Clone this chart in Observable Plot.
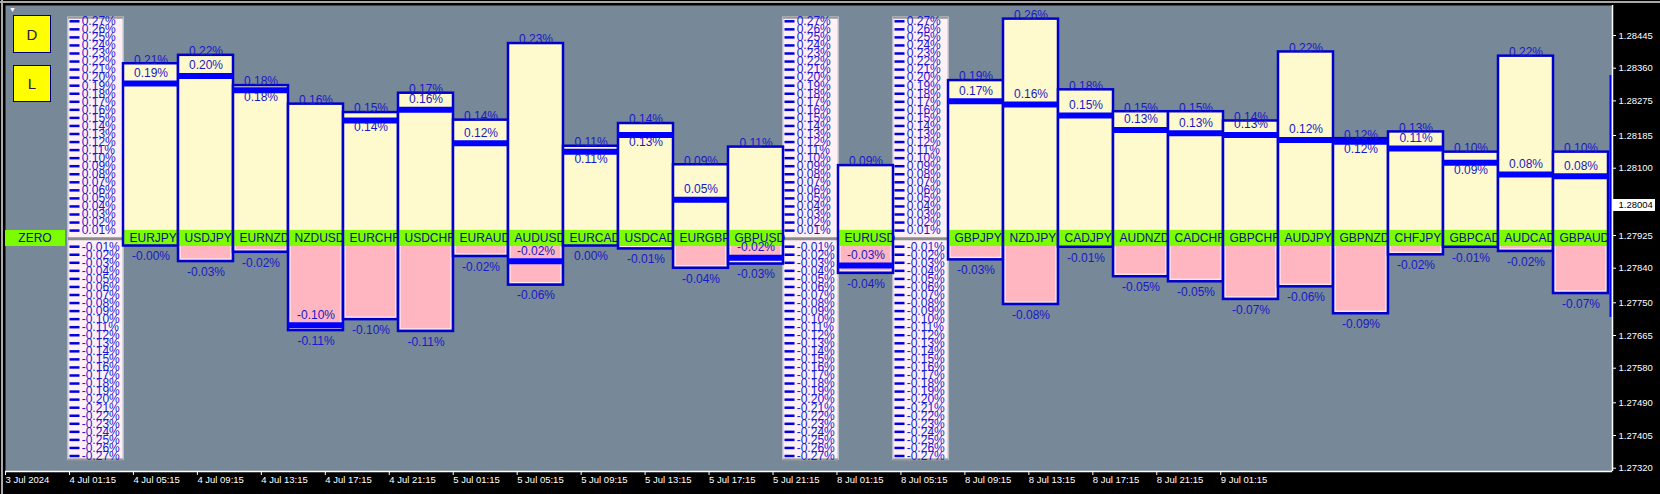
<!DOCTYPE html>
<html>
<head>
<meta charset="utf-8">
<script src="https://cdn.jsdelivr.net/npm/d3@7"></script>
<script src="https://cdn.jsdelivr.net/npm/@observablehq/plot@0.6"></script>
<style>
  html, body { margin: 0; padding: 0; background: #000; overflow: hidden; }
  #chart { position: relative; width: 1660px; height: 494px; background: #000; font-family: "Liberation Sans", Arial, sans-serif; }
  #chart svg { position: absolute; left: 0; top: 0; }
  .btn { position: absolute; left: 13px; width: 38px; box-sizing: border-box; background: #ffff00; border: 1px solid #00007a;
         display: flex; align-items: center; justify-content: center; font-size: 15px; color: #202040; }
  .zero { position: absolute; left: 5px; width: 60px; box-sizing: border-box; background: #7cfc00;
          display: flex; align-items: center; justify-content: center; font-size: 12px; color: #0c0c8a; }
  .edge { position: absolute; background: #a9a9a9; }
  .tri { position: absolute; left: 9px; top: 6px; color: #fff; font-size: 7px; }
</style>
</head>
<body>
<div id="chart"></div>
<script>
// ---------- data ----------
const columns = ["|1", "EURJPY", "USDJPY", "EURNZD", "NZDUSD", "EURCHF", "USDCHF", "EURAUD", "AUDUSD",
  "EURCAD", "USDCAD", "EURGBP", "GBPUSD", "|2", "EURUSD", "|3", "GBPJPY", "NZDJPY", "CADJPY", "AUDNZD",
  "CADCHF", "GBPCHF", "AUDJPY", "GBPNZD", "CHFJPY", "GBPCAD", "AUDCAD", "GBPAUD"];
const pairs = columns.filter(c => !c.startsWith("|"));
const rulers = columns.filter(c => c.startsWith("|"));

// high / current / low change in percent, per pair (same order as pairs)
const hi  = [0.207, 0.217, 0.181, 0.159, 0.149, 0.172, 0.140, 0.231, 0.109, 0.136, 0.087, 0.108,
             0.086, 0.187, 0.260, 0.176, 0.150, 0.150, 0.139, 0.221, 0.118, 0.126, 0.102, 0.216, 0.102];
const cur = [0.187, 0.196, 0.179, -0.100, 0.143, 0.156, 0.116, -0.024, 0.106, 0.126, 0.049, -0.020,
             -0.029, 0.166, 0.162, 0.149, 0.132, 0.128, 0.126, 0.120, 0.118, 0.110, 0.093, 0.079, 0.077];
const lo  = [-0.004, -0.028, -0.017, -0.110, -0.097, -0.111, -0.022, -0.056, 0.002, -0.013, -0.036, -0.031,
             -0.042, -0.026, -0.079, -0.011, -0.046, -0.052, -0.073, -0.058, -0.090, -0.020, -0.011, -0.016, -0.066];

// ruler tick values (percent)
const rulerTicks = [...d3.range(27, 0, -1).map(n => n / 100), ...d3.range(1, 28).map(n => -n / 100)];

// price axis
const priceTicks = [1.28445, 1.28360, 1.28275, 1.28185, 1.28100, 1.27925, 1.27840, 1.27750,
                    1.27665, 1.27580, 1.27490, 1.27405, 1.27320];
const currentPrice = 1.28004;
const lastBar = [{index: 401.5, high: 1.28341, low: 1.27712}];

// time axis (M15 bars, label every 16 bars)
const timeLabels = ["3 Jul 2024", "4 Jul 01:15", "4 Jul 05:15", "4 Jul 09:15", "4 Jul 13:15", "4 Jul 17:15",
  "4 Jul 21:15", "5 Jul 01:15", "5 Jul 05:15", "5 Jul 09:15", "5 Jul 13:15", "5 Jul 17:15", "5 Jul 21:15",
  "8 Jul 01:15", "8 Jul 05:15", "8 Jul 09:15", "8 Jul 13:15", "8 Jul 17:15", "8 Jul 21:15", "9 Jul 01:15"];
const barsPerLabel = 16;
const barsTotal = 402;

// ---------- layout ----------
const W = 1660, H = 494;
const FONT = '"Liberation Sans", Arial, sans-serif';
const fmt = v => v.toFixed(2) + "%";
const priceDomain = [1.273114, 1.28523];
const stripTop = 0.009, stripBot = -0.0101, minBottom = -0.0095;
const belowGap = 0.012;
const rulerEdge = 0.2745;

const chart = document.getElementById("chart");

// ---- base: frame, price axis, time axis ----
const timeTicks = timeLabels.map((_, i) => i * barsPerLabel);
const timeMap = new Map(timeTicks.map((t, i) => [t, timeLabels[i]]));
const plotA = Plot.plot({
  width: W, height: H,
  marginLeft: 5, marginRight: 48, marginTop: 5, marginBottom: 23,
  x: {domain: [0, barsTotal], axis: null},
  y: {domain: priceDomain, axis: null},
  style: {background: "#000", color: "white", fontFamily: FONT, fontSize: "9.5px"},
  marks: [
    Plot.frame({fill: "#778899", stroke: "none"}),
    Plot.ruleX(lastBar, {x: "index", y1: "low", y2: "high", stroke: "#0000ff", strokeWidth: 2}),
    Plot.ruleY([priceDomain[0]], {stroke: "white", strokeWidth: 1.5}),
    Plot.ruleX([barsTotal], {stroke: "white", strokeWidth: 1.5}),
    Plot.axisX(timeTicks, {anchor: "bottom", tickFormat: d => timeMap.get(d), textAnchor: "start",
      tickSize: 4, tickPadding: 1, stroke: "white", fill: "white", label: null}),
    Plot.axisY(priceTicks, {anchor: "right", tickFormat: d => d.toFixed(5), tickSize: 3, tickPadding: 3,
      stroke: "white", fill: "white", label: null})
  ]
});
chart.appendChild(plotA);

// ---- current price box ----
const plotD = Plot.plot({
  width: W, height: H,
  marginLeft: 1612, marginRight: 0, marginTop: 5, marginBottom: 23,
  y: {domain: priceDomain, axis: null},
  style: {background: "transparent", fontFamily: FONT, fontSize: "9.5px"},
  marks: [
    Plot.ruleY([currentPrice], {stroke: "white", strokeWidth: 12, insetLeft: 1, insetRight: 5}),
    Plot.text([currentPrice], {y: d => d, frameAnchor: "left", dx: 6, textAnchor: "start",
      text: d => d.toFixed(5), fill: "black"})
  ]
});
chart.appendChild(plotD);

// ---- rulers ----
const xBand = {type: "band", domain: columns, padding: 0, axis: null};
const rulerData = rulers.flatMap(c => rulerTicks.map(v => ({c, v})));
const edgeData = rulers.flatMap(c => [rulerEdge, -rulerEdge].map(v => ({c, v})));
const plotC = Plot.plot({
  width: W, height: H,
  marginLeft: 65, marginRight: 49, marginTop: 20.8, marginBottom: 38.5,
  x: xBand,
  y: {domain: [-0.27, 0.27], axis: null},
  style: {background: "transparent", fontFamily: FONT},
  marks: [
    Plot.rect(rulers, {x: d => d, y1: -rulerEdge, y2: rulerEdge, fill: "#fff0f5", stroke: "#d0d0d8", strokeWidth: 1.5}),
    Plot.tickY(edgeData, {x: "c", y: "v", stroke: "#9a9a9a", strokeWidth: 2}),
    Plot.tickY(rulers, {x: d => d, y: 0, stroke: "#8c8c8c", strokeWidth: 3}),
    Plot.tickY(rulerData, {x: "c", y: "v", stroke: "#0000dd", strokeWidth: 2.5, insetLeft: 1.5, insetRight: 43.5}),
    Plot.text(rulerData, {x: "c", y: "v", text: d => fmt(d.v), textAnchor: "start", dx: -14.3,
      fontSize: 12, fill: "#1a1ad0"})
  ]
});
chart.appendChild(plotC);

// ---- pair boxes ----
const rows = pairs.map((name, i) => ({
  name, hi: hi[i], cur: cur[i], lo: lo[i], bottom: Math.min(lo[i], minBottom)
}));
const VAL = "#1818c8", BORDER = "#0000cd";
function pairMarks(r) {
  const d = [r];
  const below = r.cur > 0 && r.hi - r.cur < belowGap;
  return [
    Plot.rect(d, {x: "name", y1: 0, y2: "hi", fill: "#fffacd"}),
    Plot.rect(d, {x: "name", y1: 0, y2: "bottom", fill: "#ffb6c1", stroke: "#ffe6ee", strokeWidth: 1.5,
      insetLeft: 2, insetRight: 2, insetBottom: 2}),
    Plot.rect(d, {x: "name", y1: stripBot, y2: stripTop, fill: "#7cfc00"}),
    Plot.text(d, {x: "name", y: (stripTop + stripBot) / 2, text: "name", textAnchor: "start", dx: -21.5,
      fontSize: 12, fill: "#0c0c8a"}),
    Plot.rect(d, {x: "name", y1: "bottom", y2: "hi", fill: "none", stroke: BORDER, strokeWidth: 2.5}),
    Plot.tickY(d, {x: "name", y: "cur", stroke: "#0000ff", strokeWidth: 6, dy: 3}),
    Plot.text(d, {x: "name", y: "hi", text: v => fmt(v.hi), dy: -4, fontSize: 12, fill: VAL}),
    Plot.text(d, {x: "name", y: "cur", text: v => fmt(v.cur), dy: below ? 10 : -7.5, fontSize: 12, fill: VAL}),
    Plot.text(d, {x: "name", y: "bottom", text: v => fmt(v.lo), dy: 10.5, fontSize: 12, fill: VAL})
  ];
}
const plotB = Plot.plot({
  width: W, height: H,
  marginLeft: 65, marginRight: 49, marginTop: 10.2, marginBottom: 29.2,
  x: xBand,
  y: {domain: [-0.27, 0.27], axis: null},
  style: {background: "transparent", fontFamily: FONT},
  marks: rows.flatMap(pairMarks)
});
chart.appendChild(plotB);

// ---- chart UI labels (buttons, ZERO) ----
const ys = plotB.scale("y");
const zTop = ys.apply(stripTop), zBot = ys.apply(stripBot);
const zero = document.createElement("div");
zero.className = "zero";
zero.style.top = zTop + "px";
zero.style.height = (zBot - zTop) + "px";
zero.textContent = "ZERO";
chart.appendChild(zero);

[["D", 15, 38], ["L", 65, 37]].forEach(([t, top, h]) => {
  const b = document.createElement("div");
  b.className = "btn";
  b.style.top = top + "px";
  b.style.height = h + "px";
  b.textContent = t;
  chart.appendChild(b);
});
const tri = document.createElement("div");
tri.className = "tri";
tri.textContent = "▼";
chart.appendChild(tri);
[["0px", "1px", "1660px", "2px"], ["1px", "0px", "2px", "494px"]].forEach(([l, t, w, h]) => {
  const e = document.createElement("div");
  e.className = "edge";
  Object.assign(e.style, {left: l, top: t, width: w, height: h});
  chart.appendChild(e);
});
</script>
</body>
</html>
